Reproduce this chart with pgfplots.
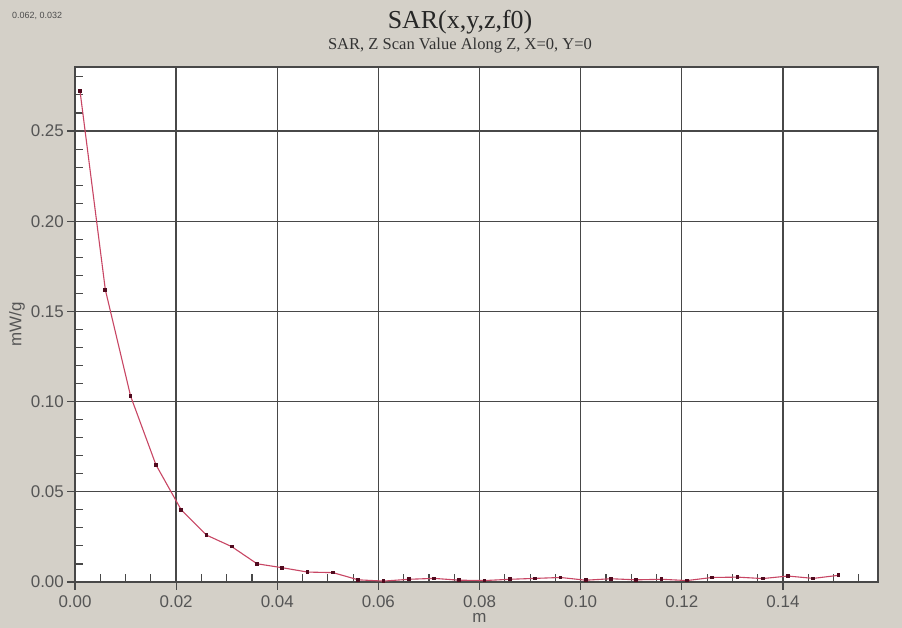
\documentclass[border=0pt]{standalone}
\usepackage{pgfplots}
\pgfplotsset{compat=1.18}
\usepackage{fontspec}
\setmainfont{Liberation Sans}
\newfontfamily\seriffont{Liberation Serif}
\definecolor{bg}{RGB}{212,208,200}
\definecolor{gridc}{RGB}{72,72,72}
\definecolor{linec}{RGB}{200,70,100}
\definecolor{markc}{RGB}{80,10,30}
\definecolor{labc}{RGB}{85,85,85}

\begin{document}
\begin{tikzpicture}[x=1bp,y=1bp]
\fill[bg] (0,0) rectangle (902,628);
\useasboundingbox (0,0) rectangle (902,628);
\node[anchor=base, font=\seriffont\fontsize{26}{26}\selectfont, text=black!85, inner sep=0] at (460,599) {SAR(x,y,z,f0)};
\node[anchor=base, font=\seriffont\fontsize{16.6}{16.6}\selectfont, text=black!80, inner sep=0] at (460,578) {SAR, Z Scan Value Along Z, X=0, Y=0};
\node[anchor=base west, font=\fontsize{9}{9}\selectfont, text=black!70, inner sep=0] at (12,609) {0.062, 0.032};
\begin{axis}[
  at={(75bp,46bp)}, anchor=south west, scale only axis,
  width=803bp, height=515bp,
  xmin=0, xmax=0.1588, ymin=0, ymax=0.2855,
  axis background/.style={fill=white},
  xtick={0,0.02,0.04,0.06,0.08,0.1,0.12,0.14},
  ytick={0,0.05,0.1,0.15,0.2,0.25},
  minor xtick={0,0.005,...,0.156},
  minor ytick={0,0.01,...,0.281},
  grid=major,
  major grid style={gridc, line width=1.3bp},
  axis line style={gridc, line width=1.3bp},
  every tick/.style={gridc, line width=1.1bp},
  tick align=inside, major tick length=-8bp, minor tick length=8bp,
  xtick pos=bottom, ytick pos=left,
  scaled ticks=false,
  /pgf/number format/assume math mode=true,
  ticklabel style={font=\fontsize{17}{17}\selectfont, text=labc, inner sep=0pt},
  xticklabel style={anchor=north, yshift=-13bp, /pgf/number format/.cd, fixed, fixed zerofill, precision=2},
  yticklabel style={anchor=east, xshift=-11bp, /pgf/number format/.cd, fixed, fixed zerofill, precision=2},
  xlabel={m}, ylabel={mW/g},
  label style={font=\fontsize{17}{17}\selectfont, text=labc, inner sep=0pt},
  xlabel style={at={(axis description cs:0.5037,0)}, anchor=base, yshift=-41bp},
  ylabel style={at={(axis description cs:-0.0722,0.5)}, anchor=center},
  clip=false,
]
\addplot[linec, line width=1.1bp, mark=square*, mark size=1.3bp, mark options={markc, fill=markc, solid}] table {
x y
0.001 0.272
0.006 0.162
0.011 0.103
0.016 0.065
0.021 0.040
0.026 0.026
0.031 0.0196
0.036 0.0101
0.041 0.0079
0.046 0.0055
0.051 0.0052
0.056 0.0012
0.061 0.0005
0.066 0.0015
0.071 0.0020
0.076 0.0010
0.081 0.0008
0.086 0.0015
0.091 0.0020
0.096 0.0025
0.101 0.0010
0.106 0.0018
0.111 0.0012
0.116 0.0015
0.121 0.0008
0.126 0.0025
0.131 0.0027
0.136 0.0019
0.141 0.0033
0.146 0.0020
0.151 0.0037
};
\end{axis}
\end{tikzpicture}
\end{document}
